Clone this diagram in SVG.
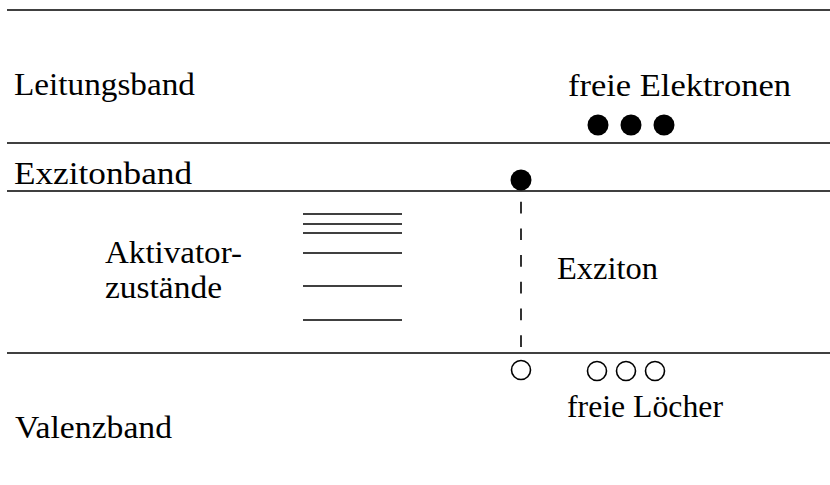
<svg xmlns="http://www.w3.org/2000/svg" width="830" height="485" viewBox="0 0 830 485">
  <style>
    .band { stroke: #000; stroke-width: 1.6; fill: none; }
    .level { stroke: #000; stroke-width: 1.6; fill: none; }
    .lbl { font-family: "Liberation Serif", "DejaVu Serif", serif; font-size: 31px; fill: #000; }
    .electron { fill: #000; }
    .hole { fill: #fff; stroke: #000; stroke-width: 1.6; }
    .exciton-link { stroke: #000; stroke-width: 1.6; stroke-dasharray: 11.7 15; fill: none; }
  </style>
  <rect width="830" height="485" fill="#fff"/>

  <!-- band edges -->
  <g id="bands">
    <line class="band" x1="7" y1="10" x2="830" y2="10"/>
    <line class="band" x1="7" y1="143" x2="830" y2="143"/>
    <line class="band" x1="7" y1="191" x2="830" y2="191"/>
    <line class="band" x1="7" y1="353" x2="830" y2="353"/>
  </g>

  <g id="leitungsband">
    <text class="lbl" x="14" y="95" textLength="181" lengthAdjust="spacingAndGlyphs">Leitungsband</text>
  </g>
  <g id="exzitonband">
    <text class="lbl" x="14" y="184" textLength="178" lengthAdjust="spacingAndGlyphs">Exzitonband</text>
  </g>
  <g id="valenzband">
    <text class="lbl" x="15" y="438" textLength="157" lengthAdjust="spacingAndGlyphs">Valenzband</text>
  </g>

  <!-- activator levels inside the gap -->
  <g id="aktivatorzustaende">
    <text class="lbl" x="105" y="263" textLength="137" lengthAdjust="spacingAndGlyphs">Aktivator-</text>
    <text class="lbl" x="105" y="298" textLength="117" lengthAdjust="spacingAndGlyphs">zustände</text>
    <line class="level" x1="303" y1="214" x2="402" y2="214"/>
    <line class="level" x1="303" y1="224" x2="402" y2="224"/>
    <line class="level" x1="303" y1="233" x2="402" y2="233"/>
    <line class="level" x1="303" y1="253" x2="402" y2="253"/>
    <line class="level" x1="303" y1="286" x2="402" y2="286"/>
    <line class="level" x1="303" y1="320" x2="402" y2="320"/>
  </g>

  <!-- bound electron-hole pair -->
  <g id="exziton">
    <circle class="electron" cx="521" cy="180" r="10.5"/>
    <circle class="hole" cx="521" cy="370" r="9.5"/>
    <text class="lbl" x="557" y="279" textLength="101" lengthAdjust="spacingAndGlyphs">Exziton</text>
  </g>
  <g id="connectors">
    <line class="exciton-link" x1="521" y1="201.7" x2="521" y2="348"/>
  </g>

  <g id="freie-elektronen">
    <text class="lbl" x="568" y="96" textLength="223" lengthAdjust="spacingAndGlyphs">freie Elektronen</text>
    <circle class="electron" cx="598" cy="125" r="10.5"/>
    <circle class="electron" cx="631" cy="125" r="10.5"/>
    <circle class="electron" cx="664" cy="125" r="10.5"/>
  </g>

  <g id="freie-loecher">
    <circle class="hole" cx="597" cy="371" r="9.5"/>
    <circle class="hole" cx="626" cy="371" r="9.5"/>
    <circle class="hole" cx="655" cy="371" r="9.5"/>
    <text class="lbl" x="567" y="417" textLength="156" lengthAdjust="spacingAndGlyphs">freie Löcher</text>
  </g>
</svg>
